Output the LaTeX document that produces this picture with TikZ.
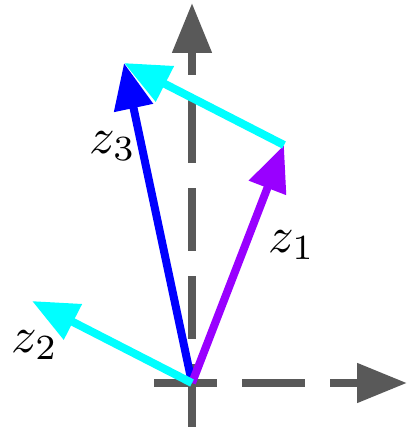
\documentclass[tikz,border=0pt]{standalone}
\usepackage{tikz}
\usetikzlibrary{arrows.meta}
\definecolor{axisgray}{RGB}{89,89,89}
\definecolor{violetz}{RGB}{153,0,255}
\definecolor{bluez}{RGB}{0,0,255}
\definecolor{cyanz}{RGB}{0,255,255}
\tikzstyle{axis} = [axisgray, line width=0.2cm, dash pattern=on 1.575cm off 0.625cm, -{Triangle[length=1.25cm,width=0.95cm]}]
\tikzstyle{vec} = [line width=0.2cm, -{Triangle[length=1.15cm,width=0.95cm]}]
\tikzstyle{lbl} = [scale=3.6, transform shape, inner sep=0pt]

\begin{document}
\begin{tikzpicture}
\useasboundingbox (-4.8,-1.225) rectangle (5.6,9.575);
\coordinate (O) at (0,0);
\coordinate (xstart) at (-0.95,0);
\coordinate (xend) at (5.375,0);
\coordinate (ystart) at (0,-1.1);
\coordinate (yend) at (0,9.5);
\coordinate (z1) at (2.3,5.95);
\coordinate (z2) at (-4,2.05);
\coordinate (z3) at (-1.7,8.0);

% axes
\draw [axis] (xstart) -- (xend);
\draw [axis] (ystart) -- (yend);

% vectors
\draw [vec, bluez] (O) -- (z3);
\draw [vec, violetz] (O) -- (z1);
\draw [vec, cyanz] (O) -- (z2);
\draw [vec, cyanz] (z1) -- (z3);

\node (l1) [lbl] at (2.5,3.45) {$z_1$};
\node (l2) [lbl] at (-3.925,0.95) {$z_2$};
\node (l3) [lbl] at (-1.975,5.925) {$z_3$};
\end{tikzpicture}
\end{document}
